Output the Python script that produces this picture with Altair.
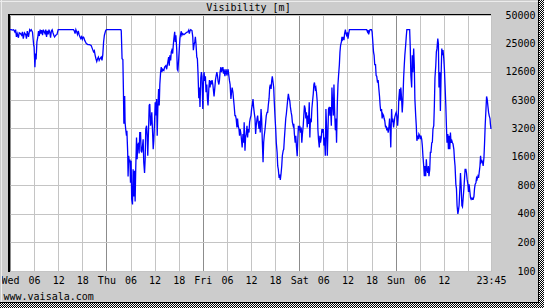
import altair as alt
import pandas as pd

# ---------------- data (hours since Wed 00:00, visibility in m) ----------------
hours = [
    0.0, 0.3, 0.6, 0.9, 1.2, 1.4, 1.6, 1.8, 2.1, 2.3, 2.6, 2.9, 3.1, 3.3, 3.6, 3.9, 4.1, 4.3, 4.6, 4.9,
    5.1, 5.3, 5.6, 5.9, 6.0, 6.2, 6.35, 6.5, 6.7, 6.9, 7.1, 7.3, 7.5, 7.7, 7.9, 8.1, 8.3, 8.5, 8.7, 8.9,
    9.1, 9.3, 9.5, 9.7, 9.9, 10.1, 10.3, 10.5, 10.7, 10.9, 11.1, 11.4, 11.7, 12.0, 15.8, 16.0, 16.2, 16.4,
    16.6, 16.8, 17.0, 17.2, 17.4, 17.6, 17.8, 18.0, 18.2, 18.4, 18.6, 18.8, 19.0, 19.4, 19.8, 20.2, 20.5,
    20.8, 21.0, 21.2, 21.4, 21.6, 21.8, 22.0, 22.2, 22.4, 22.7, 22.9, 23.1, 23.3, 23.5, 23.8, 24.0, 27.6,
    27.7, 27.9, 28.1, 28.25, 28.35, 28.45, 28.55, 28.65, 28.8, 29.0, 29.1, 29.3, 29.4, 29.55, 29.7, 29.85,
    30.0,
    30.15, 30.3, 30.5, 30.65, 30.8, 31.0, 31.15, 31.3, 31.5, 31.65, 31.8, 32.0, 32.15, 32.3, 32.5, 32.65,
    32.8, 33.0, 33.15, 33.3, 33.5, 33.65, 33.8, 34.0, 34.15, 34.3, 34.5, 34.65, 34.8, 35.0, 35.15, 35.3,
    35.5, 35.65, 35.8, 36.0, 36.15, 36.3, 36.5, 36.65, 36.8, 37.0, 37.15, 37.3, 37.5, 37.65, 37.8, 38.0,
    38.3, 38.5, 38.8, 39.0, 39.3, 39.5, 39.65, 39.8, 40.0, 40.15, 40.3, 40.5, 40.65, 40.8, 41.0, 41.15,
    41.3, 41.5, 41.65, 41.8, 42.0, 42.15, 42.3, 42.5, 42.65, 42.8, 43.0, 43.3, 43.65, 44.0, 44.3, 44.5,
    44.65, 44.8, 45.0, 45.3, 45.5, 45.65, 45.8, 46.0, 46.15, 46.3, 46.5, 46.65, 46.8, 47.0, 47.15, 47.3,
    47.5, 47.65, 47.8, 48.0, 48.15, 48.3, 48.5, 48.65, 48.8, 49.0, 49.15, 49.3, 49.5, 49.65, 49.8, 50.0,
    50.15, 50.3, 50.5, 50.8, 51.0, 51.15, 51.3, 51.5, 51.65, 51.8, 52.0, 52.15, 52.3, 52.5, 52.65, 52.8,
    53.0, 53.15, 53.3, 53.5, 53.65, 53.8, 54.0, 54.15, 54.3, 54.5, 54.65, 54.8, 55.0, 55.15, 55.3, 55.5,
    55.65, 55.8, 56.0, 56.15, 56.3, 56.5, 56.65, 56.8, 57.0, 57.15, 57.3, 57.5, 57.65, 57.8, 58.0, 58.15,
    58.3, 58.5, 58.65, 58.8, 59.0, 59.15, 59.3, 59.5, 59.65, 59.8,
    60.0, 60.15, 60.3, 60.5, 60.65, 60.8, 61.0, 61.15, 61.3, 61.5, 61.65, 61.8, 62.0, 62.15, 62.3, 62.5,
    62.65, 62.8, 63.0, 63.15, 63.3, 63.5, 63.65, 63.8, 64.0, 64.15, 64.3, 64.5, 64.65, 64.8, 65.0, 65.15,
    65.3, 65.5, 65.65, 65.8, 66.0, 66.15, 66.3, 66.5, 66.65, 66.8, 67.0, 67.15, 67.3, 67.5, 67.65, 67.8,
    68.0, 68.15, 68.3, 68.5, 68.65, 68.8, 69.0, 69.15, 69.3, 69.5, 69.65, 69.8, 70.0, 70.15, 70.3, 70.5,
    70.65, 70.8, 71.0, 71.15, 71.3, 71.5, 71.65, 71.8, 72.0, 72.15, 72.3, 72.5, 72.65, 72.8, 73.0, 73.15,
    73.3, 73.5, 73.65, 73.8, 74.0, 74.15, 74.3, 74.5, 74.65, 74.8, 75.0, 75.15, 75.3, 75.5, 75.65, 75.8,
    76.0, 76.15, 76.3, 76.5, 76.65, 76.8, 77.0, 77.15, 77.3, 77.5, 77.65, 77.8, 78.0, 78.15, 78.3, 78.5,
    78.65, 78.8, 79.0, 79.15, 79.3, 79.5, 79.65, 79.8, 80.0, 80.15, 80.3, 80.5, 80.65, 80.8, 81.0, 81.15,
    81.3, 81.5, 81.65, 81.8, 82.0, 82.15, 82.3, 82.5, 82.65, 82.8, 83.0, 83.15, 83.3, 83.5, 83.65, 83.8,
    84.0, 84.15, 84.3, 84.5, 88.8, 89.0, 89.15, 89.3, 89.5, 89.65, 90.0,
    90.15, 90.3, 90.5, 90.65, 90.8, 91.0, 91.15, 91.3, 91.5, 91.65, 91.8, 92.0, 92.15, 92.3, 92.5, 92.65,
    92.8, 93.0, 93.15, 93.3, 93.5, 93.65, 93.8, 94.0, 94.15, 94.3, 94.5, 94.65, 94.8, 95.0, 95.15, 95.3,
    95.5, 95.65, 95.8, 96.0, 96.15, 96.3, 96.5, 96.65, 96.8, 97.0, 97.15, 97.3, 97.5, 97.65, 97.8, 98.0,
    98.15, 98.3, 98.5, 98.65, 98.8, 99.5, 99.65, 99.8, 100.0, 100.15, 100.3, 100.5, 100.65, 100.8, 101.0,
    101.15, 101.3, 101.5, 101.65, 101.8, 102.0, 102.15, 102.3, 102.5, 102.65, 102.8, 103.0, 103.15, 103.3,
    103.5, 103.65, 103.8, 104.0, 104.15, 104.3, 104.5, 104.65, 104.8, 105.0, 105.15, 105.3, 105.5, 105.65,
    105.8, 106.0, 106.15, 106.3, 106.5, 106.65, 106.8, 107.0, 107.15, 107.3, 107.5, 107.65, 107.8, 108.0,
    108.15, 108.3, 108.5, 108.65, 108.8, 109.0, 109.15, 109.3, 109.5, 109.65, 109.8, 110.0, 110.15, 110.3,
    110.5, 110.65, 110.8, 111.0, 111.15, 111.3, 111.5, 111.65, 111.8, 112.0, 112.15, 112.3, 112.5, 112.65,
    112.8, 113.0, 113.15, 113.3, 113.5, 113.65, 113.8, 114.0, 114.15, 114.3, 114.5, 114.65, 114.8, 115.0,
    115.15, 115.3, 115.5, 115.65, 115.8, 116.0, 116.15, 116.3, 116.5, 116.65, 116.8, 117.0, 117.15, 117.3,
    117.5, 117.65, 117.8, 118.0, 118.15, 118.3, 118.5, 118.65, 118.8, 119.0, 119.15, 119.3, 119.5, 119.6,
    119.75,
]

visibility = [
    35000, 35000, 34600, 35000, 33200, 35000, 29400, 31900, 28800, 32500, 31900, 30600, 33200, 28200, 32500,
    31200, 28200, 33900, 29400, 35000, 34000, 35000, 33000, 24000, 23000, 14100, 19600, 17000, 26000, 28800,
    33900, 30000, 35000, 31900, 34600, 30600, 35000, 33200, 31900, 35000, 29400, 34000, 31200, 35000, 33000,
    28800, 34000, 35000, 32500, 30600, 29400, 30600, 31200, 35000, 35000, 34000, 31900, 35000, 33200, 31200,
    33900, 31200, 29400, 28200, 29400, 27700, 29400, 28800, 27000, 26000, 25000, 24400, 24400, 23900, 22100,
    20400, 21000, 18800, 17300, 16200, 17300, 18000, 16600, 17300, 18000, 16600, 19000, 26000, 30600, 34000,
    35000, 35000, 34000, 17300, 17000, 7370, 3560, 5110, 7000, 3700, 3140, 2670, 3000, 1780, 990, 1640, 1400,
    1500, 853,
    1450, 570, 504, 1180, 610, 1140, 540, 1180, 2560, 1510, 2100, 2250, 1730, 2880, 2880, 1850,
    1780, 2100, 2450, 1400, 1080, 1510, 3140, 3400, 2670, 1640, 3140, 5560, 5770, 3400, 3700, 4700,
    2880, 1920, 2360, 3840, 6020, 4350, 6500, 2670, 5110, 8300, 5560, 9250, 12500, 14100, 12500, 13400,
    13000, 14100, 14600, 13400, 16000, 18000, 14600, 18800, 16600, 20400, 21300, 19600, 24000, 28200, 33200, 26000,
    30600, 22100, 13400, 13000, 17300, 22100, 28200, 31900, 33700, 30600, 31900, 31000, 31900, 32800, 33200, 34600,
    31900, 33900, 35000, 34300, 29400, 21300, 23900, 26000, 29400, 25000, 18000, 17300, 12500, 6640, 8600, 5370,
    10900, 12500, 11300, 5110, 9250, 12500, 10100, 11300, 7660, 9250, 6500, 5560, 8300, 10300, 8600, 10100,
    9250, 10300, 9250, 6920, 8600, 10300, 11300, 12500, 11500, 10100, 9250, 10300, 12500, 14100, 12500, 13400,
    14100, 12000, 13400, 11300, 12500, 13400, 11500, 12500, 13400, 11300, 10100, 9250, 6500, 7660, 8600, 7660,
    6500, 5560, 4350, 4350, 4050, 3260, 4050, 3400, 3140, 2670, 3140, 2780, 2360, 2010, 2780, 2250,
    3700, 1850, 2560, 2780, 3400, 2560, 3140, 2880, 3700, 4050,
    4350, 5110, 5560, 6500, 5370, 4700, 4050, 2780, 3400, 4050, 4350, 3700, 3140, 3840, 2880, 5110,
    4050, 2450, 1400, 2250, 2670, 3140, 3700, 4350, 4700, 4700, 5560, 6640, 8600, 9250, 8300, 10100,
    11300, 9700, 8600, 6020, 4050, 3140, 2250, 1780, 1280, 1180, 960, 1040, 910, 1080, 1280, 1640,
    1850, 1920, 2450, 3260, 4050, 4520, 5560, 6500, 7370, 6500, 6240, 5370, 4700, 4350, 3700, 3400,
    3560, 2780, 2250, 2670, 2100, 1620, 2360, 3400, 3040, 3400, 2880, 3260, 2250, 2780, 3400, 4350,
    5560, 5110, 4050, 4700, 3260, 4350, 3560, 6020, 2560, 4050, 3700, 5110, 6020, 7370, 9250, 9700,
    8300, 8600, 7660, 6020, 3140, 2450, 2010, 2670, 2250, 2560, 3140, 2880, 3140, 2100, 2560, 1640,
    5110, 3400, 1640, 2880, 5110, 5370, 4350, 5370, 3400, 8600, 6020, 4350, 9250, 5110, 3040, 4050,
    2250, 6020, 9250, 11500, 15000, 20400, 23900, 26000, 29400, 27700, 29400, 27100, 31900, 35000, 31900, 30600,
    32800, 28200, 31200, 35000, 35000, 33200, 34600, 31200, 34000, 35000, 35000,
    33200, 27100, 20400, 18800, 15000, 15000, 11500, 11300, 9700, 10300, 8600, 6920, 5560, 4850, 5110, 4050,
    4520, 4350, 4050, 3840, 3260, 3400, 3040, 3260, 2880, 3140, 4050, 3140, 2010, 5110, 3700, 4050,
    3260, 3700, 4200, 4520, 4700, 4350, 3400, 4200, 6500, 8300, 6240, 8600, 6500, 4700, 6020, 10900,
    14600, 18800, 23900, 29400, 35000, 35000, 22800, 11500, 8600, 18800, 12500, 22100, 15000, 6500, 4350,
    3400, 2360, 2670, 2450, 2780, 2670, 2450, 2670, 2450, 2100, 1640, 1280, 1000, 1280,
    1000, 1510, 1180, 1080, 1280, 1000, 1180, 1780, 1780, 2250, 2280, 3140, 3400, 5560,
    10900, 14600, 20400, 22100, 28200, 25000, 8600, 12500, 4850, 10300, 22100, 18800, 21300, 17300,
    13400, 9250, 5560, 3400, 2250, 2780, 1920, 2670, 1920, 2880, 2250, 2360, 2250, 2180,
    1920, 1510, 1280, 820, 740, 490, 400, 435, 490, 740, 1080, 820, 490, 475,
    570, 740, 930, 1180, 1180, 1080, 930, 820, 680, 820, 680, 590, 570, 590,
    570, 570, 610, 740, 820, 853, 960, 930, 1000, 960, 1080, 1280, 1640, 1400,
    1450, 1400, 1280, 1580, 2250, 3400, 5110, 6920, 6500, 5370, 4700, 4350, 4050, 3560,
    3140,
]

x_ticks = [0, 6, 12, 18, 24, 30, 36, 42, 48, 54, 60, 66, 72, 78, 84, 90, 96, 102, 108, 114, 119.75]
x_tick_labels = ["Wed", "06", "12", "18", "Thu", "06", "12", "18", "Fri", "06", "12", "18",
                 "Sat", "06", "12", "18", "Sun", "06", "12", "", "23:45"]
y_ticks = [100, 200, 400, 800, 1600, 3200, 6300, 12600, 25000, 50000]

title_text = "Visibility [m]"
footer_text = "www.vaisala.com"

# ---------------- chart ----------------
W, H = 481, 256
FONT = "DejaVu Sans Mono"

df = pd.DataFrame({"h": hours, "v": visibility})

label_expr = "''"
for v, lab in reversed(list(zip(x_ticks, x_tick_labels))):
    label_expr = f"datum.value == {v} ? '{lab}' : {label_expr}"

x_enc = alt.X(
    "h:Q",
    scale=alt.Scale(domain=[0, 119.75], nice=False, zero=False),
    axis=alt.Axis(
        values=x_ticks, labelExpr=label_expr, title=None, grid=True,
        gridColor={"condition": {"test": "datum.value % 24 === 0", "value": "#8c8c8c"}, "value": "#c4c4c4"},
        labelOverlap=False, labelFlush=False, domain=False, ticks=False, tickSize=0,
        labelPadding=12, labelBaseline="alphabetic", labelAlign="center",
        labelFont=FONT, labelFontSize=10, labelColor="black",
    ),
)
y_enc = alt.Y(
    "v:Q",
    scale=alt.Scale(type="log", domain=[100, 50000], nice=False),
    axis=alt.Axis(
        orient="right", values=y_ticks, format="d", title=None, grid=True, gridColor="#c4c4c4",
        labelOverlap=False, labelFlush=False, labelPadding=44, labelAlign="right",
        labelBaseline="middle", domain=False, ticks=False, tickSize=0,
        labelFont=FONT, labelFontSize=10, labelColor="black",
    ),
)

line = alt.Chart(df).mark_line(color="#0000ff", strokeWidth=1.3).encode(x=x_enc, y=y_enc)

one = alt.Data(values=[{"a": 0}])


def rule(x, y, x2=None, y2=None, color="black", width=1, dash=None, offset=0):
    enc = {"x": alt.value(x), "y": alt.value(y)}
    if x2 is not None:
        enc["x2"] = alt.value(x2)
    if y2 is not None:
        enc["y2"] = alt.value(y2)
    kw = dict(color=color, strokeWidth=width)
    if dash:
        kw["strokeDash"] = dash
        kw["strokeDashOffset"] = offset
    return alt.Chart(one).mark_rule(**kw).encode(**enc)


def rect(x, x2, y, y2, color):
    return alt.Chart(one).mark_rect(color=color).encode(
        x=alt.value(x), x2=alt.value(x2), y=alt.value(y), y2=alt.value(y2))


# plot origin is at absolute (10, 15)
deco = [
    rule(-2, -0.5, x2=481, color="black"),                 # top border
    rule(-1, -1, y2=257, color="black", width=2),           # left border
    rule(-10, -13.5, x2=528, color="#ececec"),              # bevel highlight top
    rule(-8.5, -15, y2=287, color="#ececec"),               # bevel highlight left
    rect(529, 534, -15, 293, "white"),
    rect(-10, 534, 288, 293, "white"),
    rule(528.5, -15, y2=287.5, color="black"),              # right dark line
    rule(-10, 287.5, x2=529, color="black"),                # bottom dark line
]
for i in range(5):
    deco.append(rule(529.5 + i, -15, y2=293, color="black", dash=[1, 1], offset=i % 2))
    deco.append(rule(-10, 288.5 + i, x2=534, color="black", dash=[1, 1], offset=i % 2))

title = alt.Chart(alt.Data(values=[{"t": title_text}])).mark_text(
    font=FONT, fontSize=10, align="center", baseline="alphabetic", color="black"
).encode(text="t:N", x=alt.value(238.5), y=alt.value(-4))

footer = alt.Chart(alt.Data(values=[{"t": footer_text}])).mark_text(
    font=FONT, fontSize=10, align="left", baseline="alphabetic", color="black"
).encode(text="t:N", x=alt.value(-6.5), y=alt.value(285))

chart = alt.layer(line, title, footer, *deco).properties(
    width=W, height=H,
    padding={"left": 10, "top": 15, "right": 53, "bottom": 37},
    autosize=alt.AutoSizeParams(type="none"),
).configure(background="#cccccc").configure_view(fill="white", strokeWidth=0)

chart.save("out.html", embed_options={"renderer": "svg", "actions": False})
